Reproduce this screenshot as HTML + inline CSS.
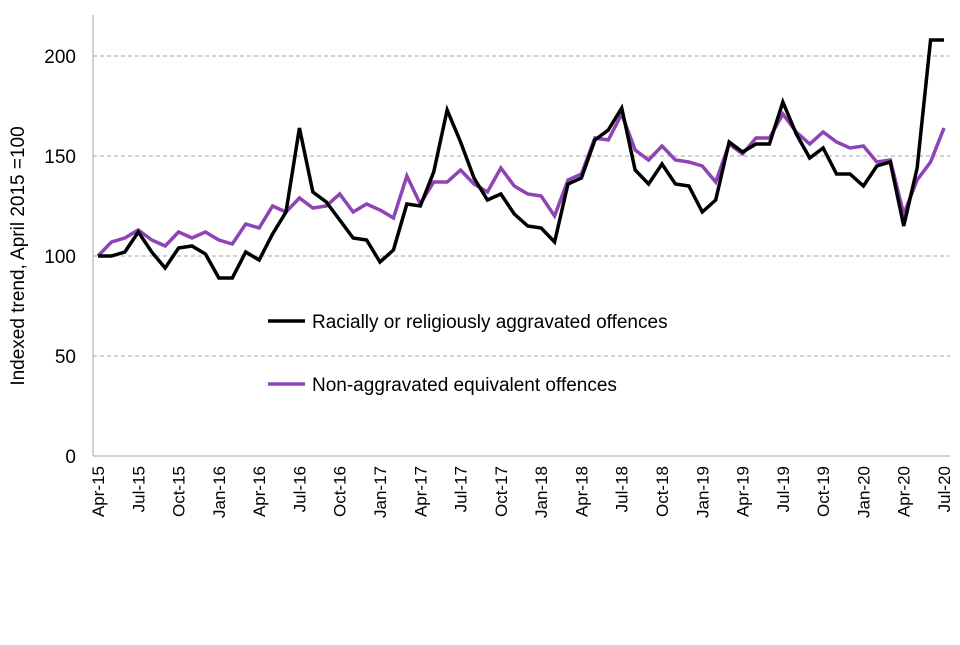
<!DOCTYPE html>
<html><head><meta charset="utf-8"><style>
body{margin:0;background:#fff;font-family:"Liberation Sans",Arial,sans-serif}
svg text{font-family:"Liberation Sans",Arial,sans-serif;fill:#000}
</style></head><body>
<svg id="c" width="960" height="640"></svg>
<script>
const months=["Apr-15","May-15","Jun-15","Jul-15","Aug-15","Sep-15","Oct-15","Nov-15","Dec-15","Jan-16","Feb-16","Mar-16","Apr-16","May-16","Jun-16","Jul-16","Aug-16","Sep-16","Oct-16","Nov-16","Dec-16","Jan-17","Feb-17","Mar-17","Apr-17","May-17","Jun-17","Jul-17","Aug-17","Sep-17","Oct-17","Nov-17","Dec-17","Jan-18","Feb-18","Mar-18","Apr-18","May-18","Jun-18","Jul-18","Aug-18","Sep-18","Oct-18","Nov-18","Dec-18","Jan-19","Feb-19","Mar-19","Apr-19","May-19","Jun-19","Jul-19","Aug-19","Sep-19","Oct-19","Nov-19","Dec-19","Jan-20","Feb-20","Mar-20","Apr-20","May-20","Jun-20","Jul-20"];
const racial=[100,100,102,112,102,94,104,105,101,89,89,102,98,111,122,164,132,127,118,109,108,97,103,126,125,142,173,157,139,128,131,121,115,114,107,136,139,158,163,174,143,136,146,136,135,122,128,157,152,156,156,177,161,149,154,141,141,135,145,147,115,144,208,208];
const nonAgg=[100,107,109,113,108,105,112,109,112,108,106,116,114,125,122,129,124,125,131,122,126,123,119,140,126,137,137,143,136,132,144,135,131,130,120,138,141,159,158,171,153,148,155,148,147,145,137,156,151,159,159,171,162,156,162,157,154,155,147,148,121,138,147,164];
const yTicks=[0,50,100,150,200];
const svg=document.getElementById('c');const NS='http://www.w3.org/2000/svg';
function mk(t,a,p){const e=document.createElementNS(NS,t);for(const k in a)e.setAttribute(k,a[k]);(p||svg).appendChild(e);return e;}
const x0=98,x1=944,y0=456,yTop=56;
const X=i=>x0+(x1-x0)*i/(months.length-1);
const Y=v=>y0-(y0-yTop)*v/200;
yTicks.forEach(v=>{
 if(v>0){const l=mk('line',{x1:93,x2:950,y1:Y(v),y2:Y(v),stroke:'#a6a6a6','stroke-dasharray':'4,3','stroke-width':1});
 
 }
 const t=mk('text',{x:76,y:Y(v)+7,'text-anchor':'end','font-size':19});t.textContent=v;
 
 
});
const ax=mk('line',{x1:93,x2:93,y1:15,y2:456,stroke:'#a6a6a6'});


const bx=mk('line',{x1:93,x2:950,y1:456,y2:456,stroke:'#a6a6a6'});


months.forEach((m,i)=>{if(i%3)return;
 const t=mk('text',{transform:`translate(${X(i)+6},466) rotate(-90)`,'text-anchor':'end','font-size':17});t.textContent=m;
 
 
});
const yt=mk('text',{transform:'translate(24,256) rotate(-90)','text-anchor':'middle','font-size':19});yt.textContent='Indexed trend, April 2015 =100';


function series(d,c,n){const p=mk('polyline',{points:d.map((v,i)=>X(i)+','+Y(v)).join(' '),fill:'none',stroke:c,'stroke-width':3.5,'stroke-linejoin':'miter'});
 
 }
series(nonAgg,'#8e44b5','line-non-aggravated');
series(racial,'#000','line-racially-aggravated');
[[321,'#000','Racially or religiously aggravated offences'],[384,'#8e44b5','Non-aggravated equivalent offences']].forEach(([y,c,s],k)=>{
 const g=mk('g',{});
 
 
 mk('line',{x1:268,x2:305,y1:y,y2:y,stroke:c,'stroke-width':3.5},g);
 const t=mk('text',{x:312,y:y+7,'font-size':19},g);t.textContent=s;
});
</script>
</body></html>
